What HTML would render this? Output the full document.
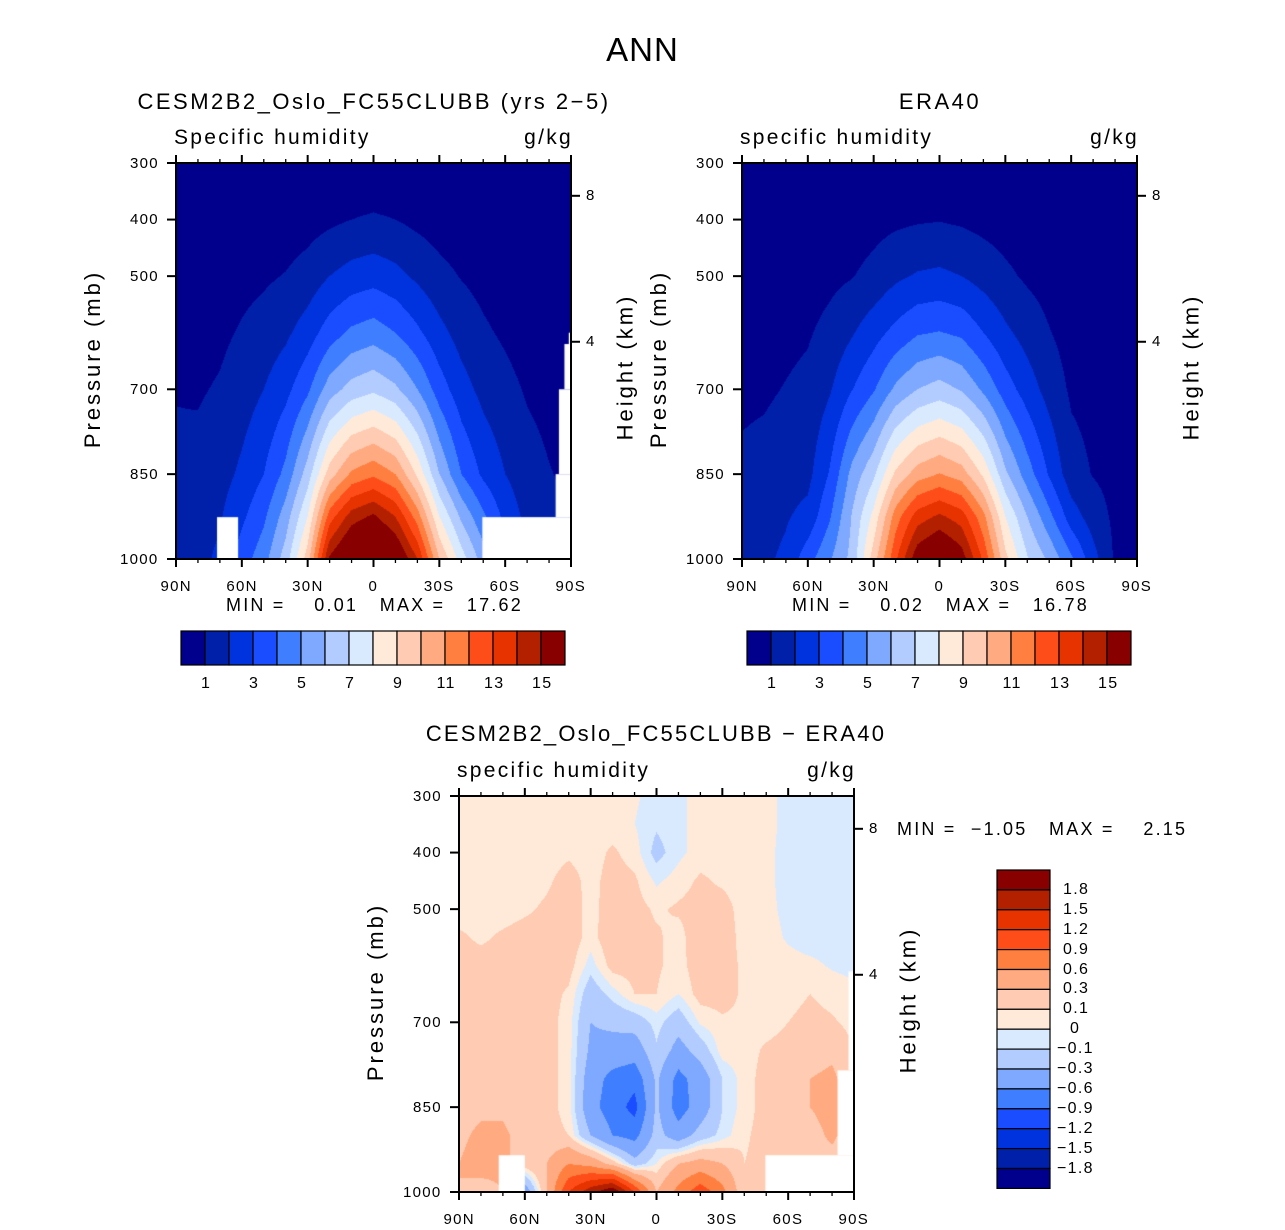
<!DOCTYPE html>
<html><head><meta charset="utf-8">
<style>
body{margin:0;background:#fff;}
#root{position:relative;width:1285px;height:1230px;overflow:hidden;background:#fff;font-family:"Liberation Sans",sans-serif;color:#000;}
.t{position:absolute;white-space:pre;line-height:1;}
canvas{position:absolute;}
svg{position:absolute;left:0;top:0;}
</style></head>
<body>
<div id="root">
<canvas id="c1" width="395" height="396" style="left:176px;top:163px"></canvas>
<canvas id="c2" width="395" height="396" style="left:742px;top:163px"></canvas>
<canvas id="c3" width="395" height="396" style="left:459px;top:796px"></canvas>
<svg id="ax" width="1285" height="1230"></svg>

<div class="t" style="left:0;width:1285px;text-align:center;top:33px;font-size:33px;letter-spacing:1px">ANN</div>
<div class="t" style="left:24px;width:700px;text-align:center;top:91px;font-size:22px;letter-spacing:2.5px">CESM2B2_Oslo_FC55CLUBB (yrs 2−5)</div>
<div class="t" style="left:590px;width:700px;text-align:center;top:91px;font-size:22px;letter-spacing:2.5px">ERA40</div>
<div class="t" style="left:306px;width:700px;text-align:center;top:723px;font-size:22px;letter-spacing:2.2px">CESM2B2_Oslo_FC55CLUBB − ERA40</div>

<div class="t" style="left:174px;top:127px;font-size:21px;letter-spacing:2.3px">Specific humidity</div>
<div class="t" style="left:473px;width:100px;text-align:right;top:127px;font-size:21px;letter-spacing:2.3px">g/kg</div>
<div class="t" style="left:740px;top:127px;font-size:21px;letter-spacing:2.3px">specific humidity</div>
<div class="t" style="left:1039px;width:100px;text-align:right;top:127px;font-size:21px;letter-spacing:2.3px">g/kg</div>
<div class="t" style="left:457px;top:760px;font-size:21px;letter-spacing:2.3px">specific humidity</div>
<div class="t" style="left:756px;width:100px;text-align:right;top:760px;font-size:21px;letter-spacing:2.3px">g/kg</div>

<div class="t" style="left:226px;top:596px;font-size:18px;letter-spacing:2.2px">MIN =    0.01   MAX =   17.62</div>
<div class="t" style="left:792px;top:596px;font-size:18px;letter-spacing:2.2px">MIN =    0.02   MAX =   16.78</div>
<div class="t" style="left:897px;top:820px;font-size:18px;letter-spacing:2.2px">MIN =  −1.05   MAX =    2.15</div>
<div id="labels"></div>
</div>
<script>
// ---------- data ----------
const lats = [90,80,70,60,50,40,30,20,10,0,-10,-20,-30,-40,-50,-60,-70,-80,-90];
const presQ = [300,400,500,600,700,850,925,1000];
const modelQ = [
[0.03,0.1,0.3,0.5,0.95,1.2,1.35,1.5],
[0.04,0.15,0.35,0.6,0.9,1.3,1.5,1.7],
[0.05,0.2,0.5,0.8,1.1,1.6,1.9,2.2],
[0.08,0.3,0.7,1.1,1.5,2.2,2.8,3.5],
[0.1,0.35,0.85,1.4,2.0,3.0,3.8,4.6],
[0.15,0.45,1.05,1.8,2.7,4.3,5.5,6.5],
[0.2,0.6,1.4,2.5,3.8,6.5,8,9.5],
[0.25,0.8,2.0,3.5,5.5,9.5,12.5,15.2],
[0.3,1.0,2.4,4.2,6.4,11.2,14.5,17],
[0.3,1.1,2.6,4.5,6.8,11.8,15.2,17.6],
[0.3,1.0,2.3,4.0,6.2,11,14,16.5],
[0.25,0.75,1.8,3.2,5.0,8.8,11.5,14],
[0.2,0.55,1.3,2.3,3.5,6.0,8,10],
[0.12,0.4,0.95,1.6,2.4,4.0,5.8,7.5],
[0.08,0.3,0.7,1.15,1.7,2.8,4.2,5.5],
[0.05,0.2,0.5,0.85,1.3,2.0,2.7,3.3],
[0.03,0.12,0.3,0.55,0.9,1.4,1.7,2],
[0.02,0.08,0.2,0.4,0.7,1.05,1.3,1.5],
[0.01,0.05,0.15,0.3,0.5,0.8,0.95,1.0]];
const eraQ = [
[0.03,0.1,0.25,0.45,0.8,1.2,1.35,1.5],
[0.04,0.13,0.3,0.55,0.85,1.35,1.6,1.8],
[0.05,0.18,0.45,0.75,1.05,1.6,1.9,2.2],
[0.08,0.25,0.55,0.9,1.25,1.7,2.3,3.6],
[0.1,0.35,0.75,1.3,1.9,3.1,3.9,4.9],
[0.15,0.5,0.95,1.9,2.95,5.3,6.05,6.3],
[0.2,0.65,1.3,2.6,3.9,6.8,8.3,9.5],
[0.25,0.8,1.8,3.3,5.2,9.2,11.5,12.8],
[0.3,0.9,2.1,3.9,6.0,10.5,13.5,15.8],
[0.3,0.95,2.2,4.05,6.4,11.05,14.2,16.8],
[0.3,0.85,2.0,3.8,5.9,10.5,13.5,15.6],
[0.25,0.7,1.6,3.0,4.8,8.8,11.3,12.8],
[0.2,0.55,1.2,2.2,3.5,6.2,8.0,9.3],
[0.12,0.4,0.85,1.6,2.5,4.5,6,7.1],
[0.08,0.28,0.6,1.05,1.6,2.9,4.3,5.8],
[0.05,0.15,0.35,0.6,0.85,1.4,2.5,4.2],
[0.03,0.1,0.25,0.45,0.7,0.95,1.5,2.4],
[0.02,0.06,0.15,0.3,0.5,0.7,0.8,0.85],
[0.01,0.04,0.1,0.2,0.35,0.5,0.6,0.65]];
const presD = [300,350,400,450,500,550,600,650,700,750,800,850,900,950,1000];
// rows by pressure, columns by latitude (90N..90S)
const diffD = [
[.05,.05,.05,.05,.05,.05,.05,.05,.02,-.05,-.03,.05,.05,.05,.03,-.03,-.05,-.05,-.05],
[.05,.05,.05,.05,.05,.05,.05,.05,0,-.08,-.03,.05,.05,.05,.03,-.03,-.05,-.05,-.05],
[.05,.05,.05,.05,.05,.08,.05,.12,.05,-.15,-.03,.05,.05,.05,.02,-.03,-.05,-.05,-.05],
[.05,.05,.05,.05,.08,.15,.06,.15,.12,-.02,.05,.12,.08,.05,.02,-.03,-.05,-.05,-.05],
[.05,.05,.05,.08,.12,.18,.05,.18,.15,.08,.12,.15,.15,.05,.02,-.02,-.05,-.05,-.05],
[.12,.08,.12,.15,.15,.18,.05,.2,.15,.12,.05,.2,.18,.05,.03,-.01,-.04,-.03,-.05],
[.15,.15,.15,.15,.15,.15,-.05,.15,.15,.12,.05,.18,.15,.08,.05,.03,.02,-.01,-.03],
[.15,.15,.15,.15,.15,.08,-.2,-.05,.1,.1,0,.15,.15,.08,.05,.05,.1,.05,.03],
[.15,.15,.15,.15,.15,.05,-.3,-.25,-.2,-.05,-.2,.02,.08,.08,.05,.1,.15,.12,.05],
[.15,.15,.15,.15,.15,.05,-.35,-.4,-.45,-.12,-.4,-.2,.05,.05,.12,.15,.2,.25,.1],
[.15,.15,.15,.15,.15,.05,-.45,-.7,-.8,-.25,-.7,-.45,-.1,.05,.15,.2,.3,.35,.15],
[.2,.25,.25,.15,.15,.05,-.5,-.75,-1.0,-.25,-.75,-.45,-.1,.05,.15,.2,.3,.4,.15],
[.25,.35,.35,.2,.15,.1,-.3,-.6,-.7,-.2,-.45,-.2,-.05,.08,.15,.15,.2,.35,.15],
[.3,.4,.35,.2,.3,.6,.5,.2,-.2,0,.3,.4,.3,.1,.15,.15,.15,.2,.1],
[.3,.2,.3,-.5,.3,1.2,1.7,2.1,1.2,.3,.7,1.1,.7,.1,.15,.15,.1,.1,.1]];
const qLevels = [1,2,3,4,5,6,7,8,9,10,11,12,13,14,15];
const qTickLabels = ["1","3","5","7","9","11","13","15"];
const dLevels = [-1.8,-1.5,-1.2,-0.9,-0.6,-0.3,-0.1,0,0.1,0.3,0.6,0.9,1.2,1.5,1.8];
const dTickLabels = ["−1.8","−1.5","−1.2","−0.9","−0.6","−0.3","−0.1","0","0.1","0.3","0.6","0.9","1.2","1.5","1.8"];
const palette = ["#00008c","#0020aa","#0033dd","#1a4dff","#3f7fff","#7fa8ff","#b3ccff","#d9eaff","#ffead9","#ffcbb2","#ffaa80","#ff7f40","#ff4d19","#e63300","#b32000","#880000"];
const latTicks = [90,60,30,0,-30,-60,-90];
const latTickLabels = ["90N","60N","30N","0","30S","60S","90S"];
const pTicks = [300,400,500,700,850,1000];
const heightKm = [8,4];
const heightP = [358,616];
// missing data regions [latNorth, latSouth, pTop, pBottom]
const modelMask = [[71.3,61.7,926,1000],[-49.6,-90,926,1000],[-83,-90,850,926],[-84.5,-90,700,850],[-87,-90,620,700],[-89,-90,600,620]];
const diffMask = [[71.9,60,935,1000],[-49.6,-90,935,1000],[-82.5,-90,785,935],[-87.5,-90,610,785]];

// ---------- axis helpers ----------
const W=395,H=396;
function xOf(lat,x0){return x0+(90-lat)/180*W;}
function yOf(p,y0){return y0+(p-300)/700*H;}
function colorFor(v,levels){let i=0;while(i<levels.length&&v>=levels[i])i++;return palette[i];}
function hex(c){return [parseInt(c.substr(1,2),16),parseInt(c.substr(3,2),16),parseInt(c.substr(5,2),16)];}
function sample(get,pres,lat,p){
  let fi=(90-lat)/10; let i0=Math.min(Math.floor(fi),17); let fx=fi-i0;
  let j0=0; while(j0<pres.length-2&&p>pres[j0+1])j0++;
  let fy=(p-pres[j0])/(pres[j0+1]-pres[j0]);
  const a=get(i0,j0),b=get(i0+1,j0),c=get(i0,j0+1),d=get(i0+1,j0+1);
  return a*(1-fx)*(1-fy)+b*fx*(1-fy)+c*(1-fx)*fy+d*fx*fy;
}
function drawField(id,get,pres,levels,masks){
  const cv=document.getElementById(id),ctx=cv.getContext('2d');
  const img=ctx.createImageData(W,H);const cache={};
  for(let y=0;y<H;y++){const p=300+(y+0.5)/H*700;
    for(let x=0;x<W;x++){const lat=90-(x+0.5)/W*180;
      const v=sample(get,pres,lat,p);const col=colorFor(v,levels);
      const rgb=cache[col]||(cache[col]=hex(col));const k=(y*W+x)*4;
      img.data[k]=rgb[0];img.data[k+1]=rgb[1];img.data[k+2]=rgb[2];img.data[k+3]=255;}}
  ctx.putImageData(img,0,0);
  ctx.fillStyle='#fff';
  masks.forEach(m=>{const x1=xOf(m[0],0),x2=xOf(m[1],0),y1=yOf(m[2],0),y2=yOf(m[3],0);ctx.fillRect(x1,y1,x2-x1,y2-y1);});
}
drawField('c1',(i,j)=>modelQ[i][j],presQ,qLevels,modelMask);
drawField('c2',(i,j)=>eraQ[i][j],presQ,qLevels,[]);
drawField('c3',(i,j)=>diffD[j][i],presD,dLevels,diffMask);

const svg=document.getElementById('ax');const NS='http://www.w3.org/2000/svg';
const lab=document.getElementById('labels');
function line(x1,y1,x2,y2,w,name){const l=document.createElementNS(NS,'line');
  l.setAttribute('x1',x1);l.setAttribute('y1',y1);l.setAttribute('x2',x2);l.setAttribute('y2',y2);
  l.setAttribute('stroke','#000');l.setAttribute('stroke-width',w);
  
  
  svg.appendChild(l);}
function text(str,x,y,size,align,name,rot,ls){const d=document.createElement('div');d.className='t';d.textContent=str;
  d.style.fontSize=size+'px';d.style.letterSpacing=(ls||1.3)+'px';
  
  
  lab.appendChild(d);
  const w=d.offsetWidth,h=size;
  let left=align==='c'?x-w/2:align==='r'?x-w:x;
  d.style.left=left+'px';d.style.top=(y-h/2)+'px';
  if(rot){d.style.left=(x-w/2)+'px';d.style.transform='rotate(-90deg)';}
}
function axes(x0,y0,pfx){
  const x1=x0+W,y1=y0+H;
  const fr=document.createElementNS(NS,'rect');fr.setAttribute('x',x0);fr.setAttribute('y',y0);fr.setAttribute('width',W);fr.setAttribute('height',H);
  fr.setAttribute('fill','none');fr.setAttribute('stroke','#000');fr.setAttribute('stroke-width',2);
  
  
  svg.appendChild(fr);
  for(let lat=90;lat>=-90;lat-=10){const x=xOf(lat,x0);const major=lat%30===0;const L=major?8:4;
    line(x,y0,x,y0-L,major?2:1.3,pfx+'-top-tick');line(x,y1,x,y1+L,major?2:1.3,pfx+'-bottom-tick');}
  latTicks.forEach((lat,i)=>text(latTickLabels[i],xOf(lat,x0),y1+27,15,'c',pfx+'-x-tick-label'));
  pTicks.forEach(p=>{const y=yOf(p,y0);line(x0,y,x0-9,y,2,pfx+'-y-tick');text(String(p),x0-17,y,15,'r',pfx+'-y-tick-label');});
  heightKm.forEach((k,i)=>{const y=yOf(heightP[i],y0);line(x1,y,x1+9,y,2,pfx+'-height-tick');text(String(k),x1+15,y,15,'l',pfx+'-height-tick-label');});
  text('Pressure (mb)',x0-83,y0+H/2-2,22,'c',pfx+'-y-axis-title',true,3);
  text('Height (km)',x1+54,y0+H/2+6,22,'c',pfx+'-right-axis-title',true,3);
}
axes(176,163,'model');axes(742,163,'era');axes(459,796,'diff');

function hbar(x0,y0,pfx){const bw=24;
  palette.forEach((c,i)=>{const r=document.createElementNS(NS,'rect');r.setAttribute('x',x0+i*bw);r.setAttribute('y',y0);r.setAttribute('width',bw);r.setAttribute('height',34);
    r.setAttribute('fill',c);r.setAttribute('stroke','#000');r.setAttribute('stroke-width',1.2);
    
    
    svg.appendChild(r);});
  qTickLabels.forEach((s,i)=>text(s,x0+bw*(2*i+1)+1,y0+53,16,'c',pfx+'-colorbar-label'));
}
hbar(181,631,'model');hbar(747,631,'era');
(function(){const x0=997,y0=870,bh=19.9;
  palette.slice().reverse().forEach((c,i)=>{const r=document.createElementNS(NS,'rect');r.setAttribute('x',x0);r.setAttribute('y',y0+i*bh);r.setAttribute('width',53);r.setAttribute('height',bh);
    r.setAttribute('fill',c);r.setAttribute('stroke','#000');r.setAttribute('stroke-width',1.2);
    
    
    svg.appendChild(r);});
  dTickLabels.slice().reverse().forEach((s,i)=>{const y=y0+bh*(i+1);
    text(s,s.startsWith('−')?1057:(s==='0'?1070:1063),y,16,'l','diff-colorbar-label');});
})();
</script>
</body></html>
